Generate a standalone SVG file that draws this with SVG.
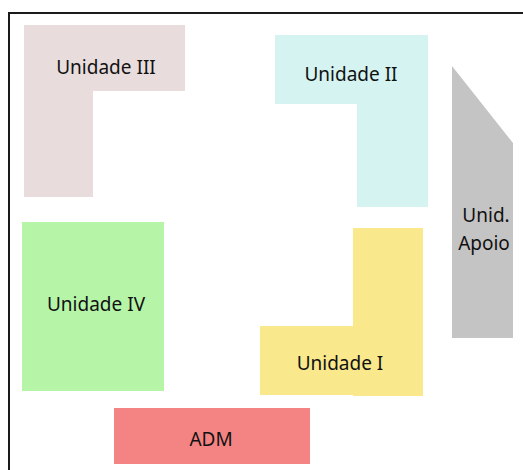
<svg xmlns="http://www.w3.org/2000/svg" width="523" height="470" viewBox="0 0 523 470">
<style>
text{font-family:"Noto Sans","Open Sans","Liberation Sans",sans-serif;font-size:19px;fill:#111;text-anchor:middle}
</style>
<rect width="523" height="470" fill="#fff"/>
<path d="M9 470 V13 H523" fill="none" stroke="#1a1a1a" stroke-width="2"/>
<g id="unidade3">
<path d="M24 25 H185 V91 H93 V197 H24 Z" fill="#e8dcdc"/>
<text x="106" y="74">Unidade III</text>
</g>
<g id="unidade2">
<path d="M275 35 H428 V207 H357 V104 H275 Z" fill="#d4f3f1"/>
<text x="351" y="81">Unidade II</text>
</g>
<g id="apoio">
<path d="M452 66 L513 143 V338 H452 Z" fill="#c4c4c4"/>
<text x="486" y="222">Unid.</text>
<text x="484" y="250">Apoio</text>
</g>
<g id="unidade4">
<rect x="22" y="222" width="142" height="169" fill="#b6f5a8"/>
<text x="96" y="311">Unidade IV</text>
</g>
<g id="unidade1">
<path d="M353 228 H423 V396 H353 V395 H260 V326 H353 Z" fill="#f9e88c"/>
<text x="340" y="370">Unidade I</text>
</g>
<g id="adm">
<rect x="114" y="408" width="196" height="56" fill="#f48484"/>
<text x="211" y="446">ADM</text>
</g>
<g id="connectors"/>
</svg>
